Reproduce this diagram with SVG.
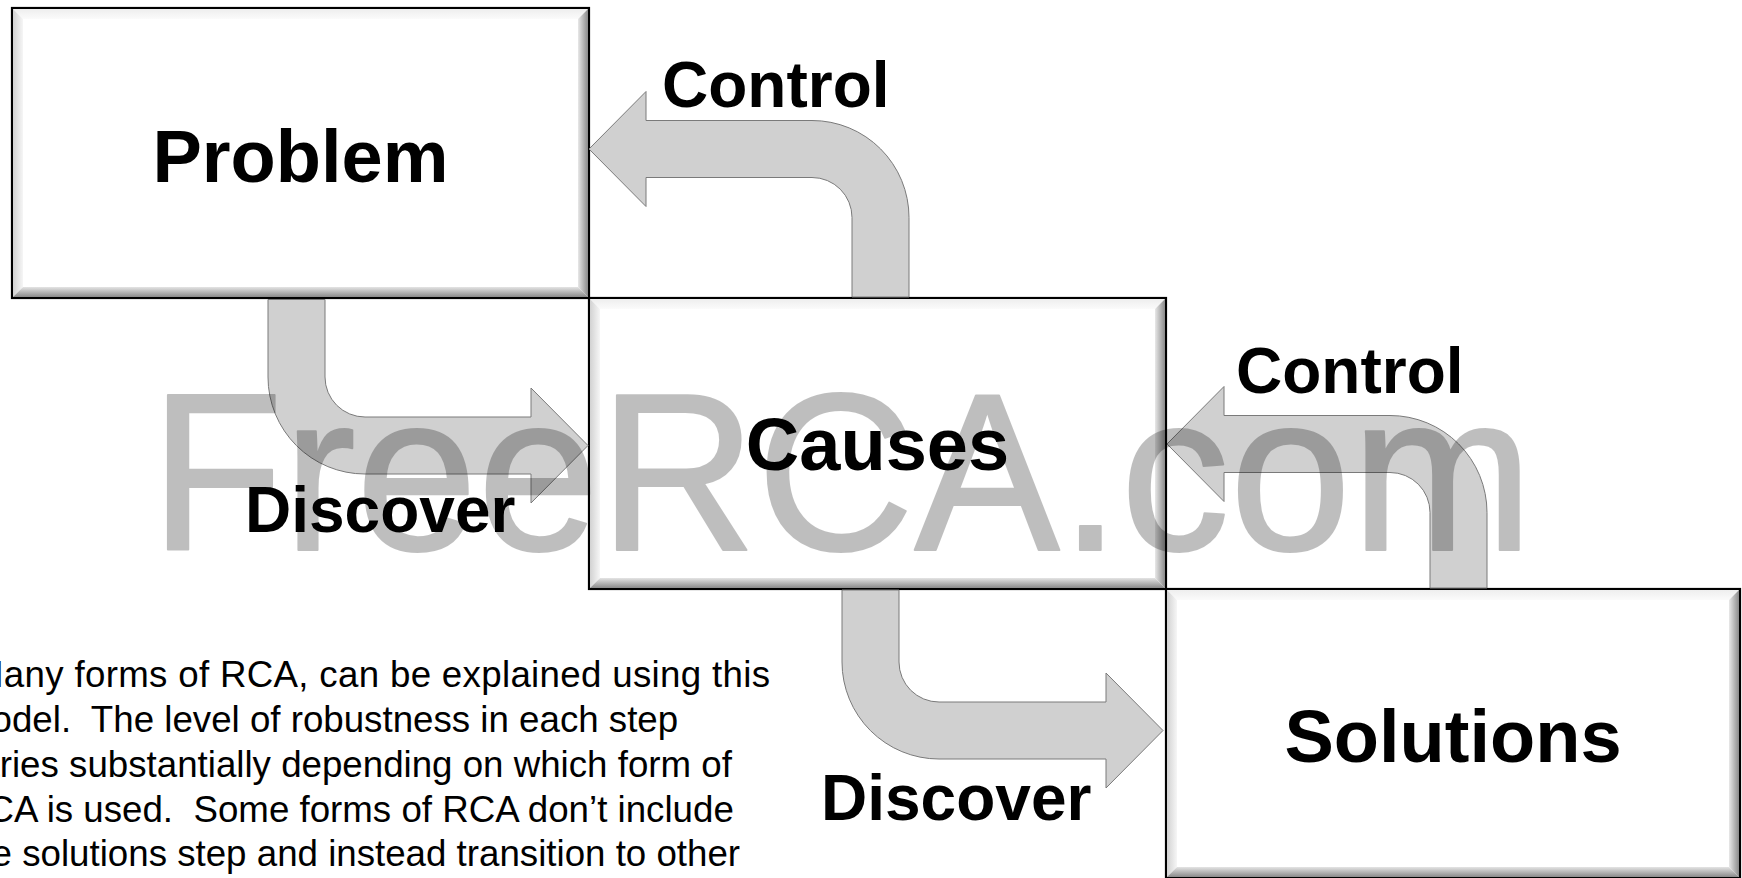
<svg xmlns="http://www.w3.org/2000/svg" width="1742" height="878" viewBox="0 0 1742 878">
<defs>
<linearGradient id="gL" x1="0" y1="0" x2="1" y2="0"><stop offset="0" stop-color="#d2d2d2"/><stop offset="1" stop-color="#f6f6f6"/></linearGradient>
<linearGradient id="gT" x1="0" y1="0" x2="0" y2="1"><stop offset="0" stop-color="#eeeeee"/><stop offset="1" stop-color="#fbfbfb"/></linearGradient>
<linearGradient id="gR" x1="0" y1="0" x2="1" y2="0"><stop offset="0" stop-color="#e8e8e8"/><stop offset="1" stop-color="#8a8a8a"/></linearGradient>
<linearGradient id="gB" x1="0" y1="0" x2="0" y2="1"><stop offset="0" stop-color="#e4e4e4"/><stop offset="1" stop-color="#8a8a8a"/></linearGradient>
</defs>
<style>
.frame{fill:#ffffff;stroke:#000000;stroke-width:2.2}
.bl{fill:url(#gL)}.bt{fill:url(#gT)}.br{fill:url(#gR)}.bb{fill:url(#gB)}
.label{font-family:"Liberation Sans",Arial,Helvetica,sans-serif;font-weight:bold;fill:#000000}
.node{font-size:74px;text-anchor:middle}
.edge{font-size:64px}
.arrow{fill:#d0d0d0;stroke:#7a7a7a;stroke-width:1}
.body{font-family:"Liberation Sans",Arial,Helvetica,sans-serif;font-size:36.7px;fill:#000000}
.wm{font-family:"Liberation Sans",Arial,Helvetica,sans-serif;font-size:224px;fill:#000000;stroke:#000000;stroke-width:2;stroke-linejoin:round}
</style>
<rect width="1742" height="878" fill="#ffffff"/>

<g id="node-problem">
<rect class="frame" x="12" y="8" width="577" height="290"/>
<polygon class="bt" points="13,9 588,9 578,19 23,19"/>
<polygon class="bl" points="13,9 23,19 23,287 13,297"/>
<polygon class="br" points="588,9 588,297 578,287 578,19"/>
<polygon class="bb" points="13,297 588,297 578,287 23,287"/>
<text class="label node" x="300.5" y="182">Problem</text>
</g>

<g id="node-causes">
<rect class="frame" x="589" y="298" width="577" height="291"/>
<polygon class="bt" points="590,299 1165,299 1155,309 600,309"/>
<polygon class="bl" points="590,299 600,309 600,578 590,588"/>
<polygon class="br" points="1165,299 1165,588 1155,578 1155,309"/>
<polygon class="bb" points="590,588 1165,588 1155,578 600,578"/>
<text class="label node" x="877.5" y="470">Causes</text>
</g>

<g id="node-solutions">
<rect class="frame" x="1166" y="589" width="574" height="289"/>
<polygon class="bt" points="1167,590 1739,590 1729,600 1177,600"/>
<polygon class="bl" points="1167,590 1177,600 1177,867 1167,877"/>
<polygon class="br" points="1739,590 1739,877 1729,867 1729,600"/>
<polygon class="bb" points="1167,877 1739,877 1729,867 1177,867"/>
<text class="label node" x="1453" y="762">Solutions</text>
</g>

<g id="connectors">
<path id="control-1" class="arrow" d="M589,149 L646,91.5 L646,120.5 L812,120.5 A97,97 0 0 1 909,217.5 L909,297 L852,297 L852,217.5 A40,40 0 0 0 812,177.5 L646,177.5 L646,206.5 Z"/>
<path id="control-2" class="arrow" d="M1167,444 L1224,386.5 L1224,415.5 L1390,415.5 A97,97 0 0 1 1487,512.5 L1487,588 L1430,588 L1430,512.5 A40,40 0 0 0 1390,472.5 L1224,472.5 L1224,501.5 Z"/>
<path id="discover-1" class="arrow" d="M268,299.5 L325,299.5 L325,377 A40,40 0 0 0 365,417 L531,417 L531,388 L588,445.5 L531,503 L531,474 L365,474 A97,97 0 0 1 268,377 Z"/>
<path id="discover-2" class="arrow" d="M842,590 L899,590 L899,662 A40,40 0 0 0 939,702 L1106,702 L1106,673 L1163,730.5 L1106,788 L1106,759 L939,759 A97,97 0 0 1 842,662 Z"/>
<text class="label edge" x="662" y="107">Control</text>
<text class="label edge" x="1236" y="393">Control</text>
<text class="label edge" x="245" y="532">Discover</text>
<text class="label edge" x="821" y="820">Discover</text>
</g>

<g id="description">
<text class="body" xml:space="preserve" x="-27" y="687" textLength="797" lengthAdjust="spacing">Many forms of RCA, can be explained using this</text>
<text class="body" xml:space="preserve" x="-39" y="732">model.  The level of robustness in each step</text>
<text class="body" xml:space="preserve" x="-39" y="777">varies substantially depending on which form of</text>
<text class="body" xml:space="preserve" x="-39" y="822">RCA is used.  Some forms of RCA don’t include</text>
<text class="body" xml:space="preserve" x="-39" y="866">the solutions step and instead transition to other</text>
</g>

<g id="watermark" opacity="0.25">
<text class="wm" x="150" y="550" textLength="1383" lengthAdjust="spacingAndGlyphs">FreeRCA.com</text>
</g>
</svg>
